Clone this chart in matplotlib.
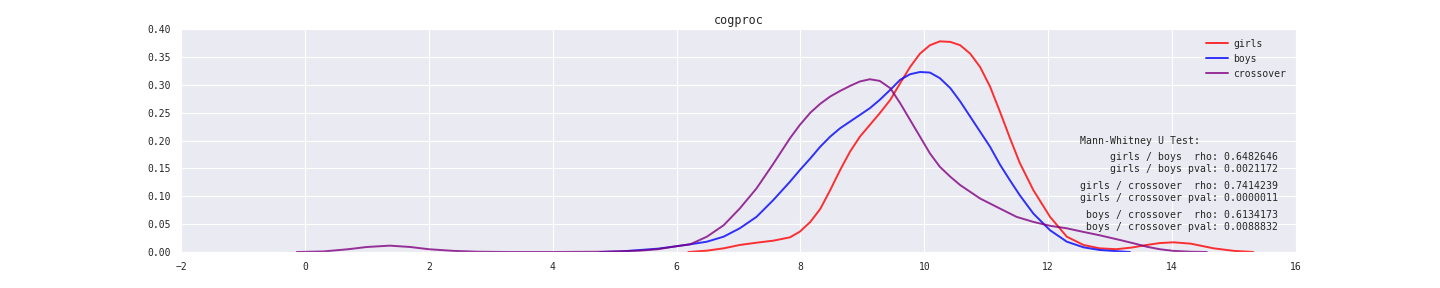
import matplotlib
matplotlib.use('Agg')
import matplotlib.pyplot as plt
import seaborn as sns

# density curves (x, density)
girls_x = [6.19, 6.49, 6.76, 7.02, 7.29, 7.56, 7.83, 7.99, 8.16, 8.32,
           8.48, 8.64, 8.80, 8.96, 9.12, 9.28, 9.45, 9.61, 9.77, 9.93,
           10.09, 10.25, 10.42, 10.58, 10.74, 10.90, 11.06, 11.22, 11.38, 11.54,
           11.76, 12.03, 12.30, 12.57, 12.83, 13.1, 13.35, 13.59, 13.8, 14.02,
           14.3, 14.67, 15.0, 15.31]
girls_y = [0.0, 0.0024, 0.0066, 0.0126, 0.0167, 0.0203, 0.0263, 0.0365, 0.054, 0.0773,
           0.111, 0.147, 0.180, 0.207, 0.228, 0.249, 0.273, 0.303, 0.332, 0.356,
           0.371, 0.378, 0.377, 0.371, 0.356, 0.332, 0.297, 0.252, 0.205, 0.16,
           0.111, 0.063, 0.0275, 0.0126, 0.0066, 0.005, 0.008, 0.0126, 0.016, 0.0174,
           0.015, 0.0066, 0.002, 0.0]

boys_x = [4.76, 5.1, 5.41, 5.7, 5.95, 6.22, 6.49, 6.76, 7.02, 7.29,
          7.56, 7.83, 7.99, 8.16, 8.32, 8.48, 8.64, 8.80, 8.96, 9.12,
          9.28, 9.45, 9.61, 9.77, 9.93, 10.09, 10.25, 10.42, 10.58, 10.74,
          10.90, 11.06, 11.22, 11.38, 11.54, 11.76, 12.03, 12.30, 12.57, 12.83,
          13.1, 13.32]
boys_y = [0.0, 0.001, 0.0036, 0.006, 0.0096, 0.0138, 0.0185, 0.0275, 0.0425, 0.063,
          0.093, 0.126, 0.147, 0.168, 0.189, 0.207, 0.222, 0.234, 0.246, 0.258,
          0.273, 0.291, 0.309, 0.319, 0.323, 0.322, 0.312, 0.294, 0.270, 0.243,
          0.216, 0.189, 0.157, 0.129, 0.102, 0.069, 0.039, 0.0185, 0.0084, 0.0036,
          0.0015, 0.0]

cross_x = [-0.13, 0.3, 0.7, 1.0, 1.37, 1.7, 2.0, 2.4, 2.8, 3.3,
           4.0, 4.8, 5.41, 5.7, 5.95, 6.22, 6.49, 6.76, 7.02, 7.29,
           7.56, 7.83, 7.99, 8.16, 8.32, 8.48, 8.64, 8.80, 8.96, 9.12,
           9.28, 9.45, 9.61, 9.77, 9.93, 10.09, 10.25, 10.42, 10.58, 10.74,
           10.90, 11.06, 11.22, 11.49, 11.76, 12.03, 12.30, 12.57, 12.83, 13.16,
           13.4, 13.59, 13.8, 14.02, 14.3, 14.56]
cross_y = [0.0, 0.001, 0.005, 0.009, 0.0114, 0.009, 0.005, 0.002, 0.0005, 0.0,
           0.0, 0.0005, 0.0024, 0.005, 0.0096, 0.0138, 0.0275, 0.048, 0.078, 0.114,
           0.158, 0.204, 0.228, 0.25, 0.266, 0.279, 0.289, 0.298, 0.306, 0.310,
           0.307, 0.294, 0.267, 0.237, 0.207, 0.177, 0.153, 0.135, 0.120, 0.108,
           0.096, 0.087, 0.078, 0.063, 0.054, 0.047, 0.0425, 0.036, 0.030, 0.0215,
           0.015, 0.0095, 0.005, 0.002, 0.0005, 0.0]

tests = [('girls / boys', 0.6482646, 0.0021172),
         ('girls / crossover', 0.7414239, 0.0000011),
         ('boys / crossover', 0.6134173, 0.0088832)]

sns.set_style('darkgrid')
plt.rcParams['font.family'] = ['DejaVu Sans Mono']

fig = plt.figure(figsize=(14.4, 2.88), dpi=100)
ax = fig.add_axes([0.1257, 0.125, 0.7743, 0.774])

ax.plot(girls_x, girls_y, color='red', alpha=0.8, lw=1.4, label='girls')
ax.plot(boys_x, boys_y, color='blue', alpha=0.8, lw=1.4, label='boys')
ax.plot(cross_x, cross_y, color='purple', alpha=0.8, lw=1.4, label='crossover')

ax.set_xlim(-2, 16)
ax.set_ylim(0, 0.40)
ax.set_xticks(range(-2, 17, 2))
ax.set_yticks([i * 0.05 for i in range(9)])
ax.yaxis.set_major_formatter(matplotlib.ticker.FormatStrFormatter('%.2f'))
ax.tick_params(labelsize=7, length=0, pad=7, colors='.15')
ax.set_title('cogproc', fontsize=8.5, color='.15', pad=3.8)

ax.legend(loc='upper right', frameon=False, fontsize=7, handlelength=2.25,
          handletextpad=0.6, borderaxespad=0.6, labelspacing=0.5)

ax.text(0.806, 0.498, 'Mann-Whitney U Test:', transform=ax.transAxes,
        ha='left', va='center', fontsize=7.15, color='.15')
ys = [(0.426, 0.372), (0.296, 0.242), (0.166, 0.112)]
for (name, rho, pval), (y1, y2) in zip(tests, ys):
    ax.text(0.984, y1, '%s  rho: %.7f' % (name, rho), transform=ax.transAxes,
            ha='right', va='center', fontsize=7.15, color='.15')
    ax.text(0.984, y2, '%s pval: %.7f' % (name, pval), transform=ax.transAxes,
            ha='right', va='center', fontsize=7.15, color='.15')

fig.savefig('out.png', dpi=100)
